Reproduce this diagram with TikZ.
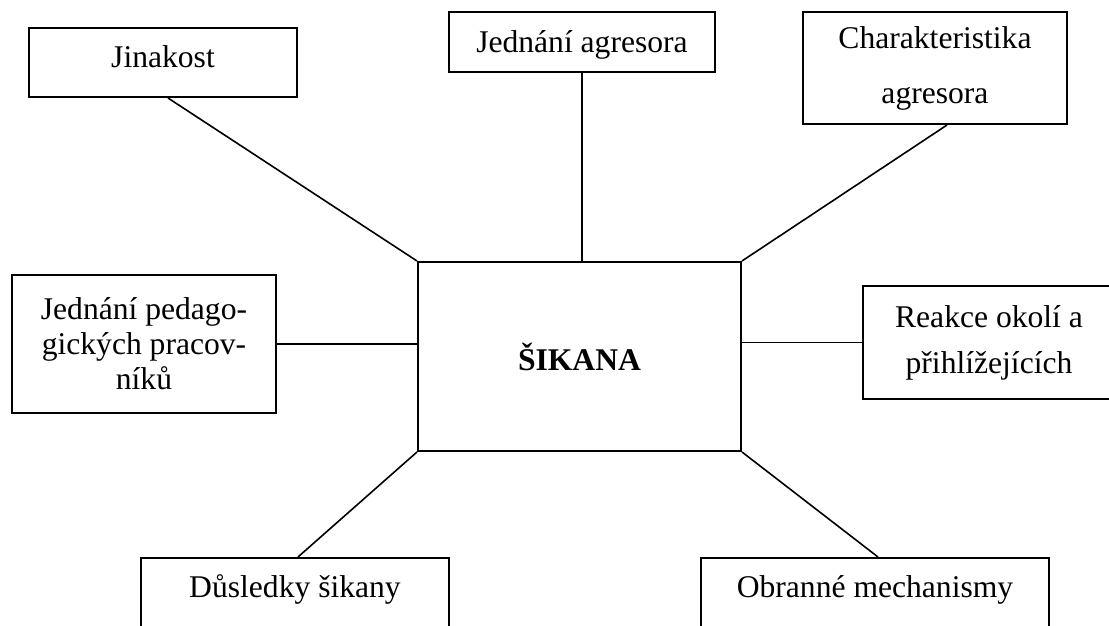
\documentclass[tikz,border=0pt]{standalone}
\usepackage{fontspec}
\setmainfont{Liberation Serif}
\usetikzlibrary{calc}
\tikzset{
  box/.style={draw=black,fill=white,line width=1pt,align=center,inner sep=0pt,font=\fontsize{15.8}{17.5}\selectfont},
  lbox/.style={box,text height=#1,anchor=base},
  link/.style={line width=0.8pt,draw=black},
}

\begin{document}
\begin{tikzpicture}[x=0.5pt,y=-0.5pt]
  \useasboundingbox (0,0) rectangle (1109,626);
  % centre
  \node[box,minimum width=161.5pt,minimum height=94.5pt] (sik) at (579.5,356.5) {\textbf{ŠIKANA}};
  % top row
  \node[lbox=20pt,text depth=14.5pt,minimum width=134pt] (jin) at (163,68) {Jinakost};
  \node[lbox=20.5pt,text depth=9.5pt,minimum width=133pt] (jag) at (582,53) {Jednání agresora};
  \node[box,minimum width=132pt,minimum height=56pt,font=\fontsize{15.8}{27.5}\selectfont] (cha) at (935,68) {Charakteristika\\agresora};
  % sides
  \node[box,minimum width=132pt,minimum height=69pt] (ped) at (144,344) {Jednání pedago-\\gických pracov-\\níků};
  \node[box,minimum width=126pt,minimum height=56.5pt,font=\fontsize{15.8}{23}\selectfont] (rea) at (989,342.5) {Reakce okolí a\\přihlížejících};
  % bottom row
  \node[lbox=19.5pt,text depth=31.5pt,minimum width=154pt] (dus) at (295,597) {Důsledky šikany};
  \node[lbox=19.5pt,text depth=31.5pt,minimum width=174pt] (obr) at (875,597) {Obranné mechanismy};
  % links
  \draw[link] ($(jin.south)+(5,0)$) -- (sik.north west);
  \draw[link] (jag.south) -- (jag.south |- sik.north);
  \draw[link] ($(cha.south)+(12,0)$) -- (sik.north east);
  \draw[link] (ped.east) -- (ped.east -| sik.west);
  \draw[link] (rea.west -| sik.east) -- (rea.west);
  \draw[link] (sik.south west) -- ($(dus.north)+(3,0)$);
  \draw[link] (sik.south east) -- ($(obr.north)+(3,0)$);
\end{tikzpicture}
\end{document}
